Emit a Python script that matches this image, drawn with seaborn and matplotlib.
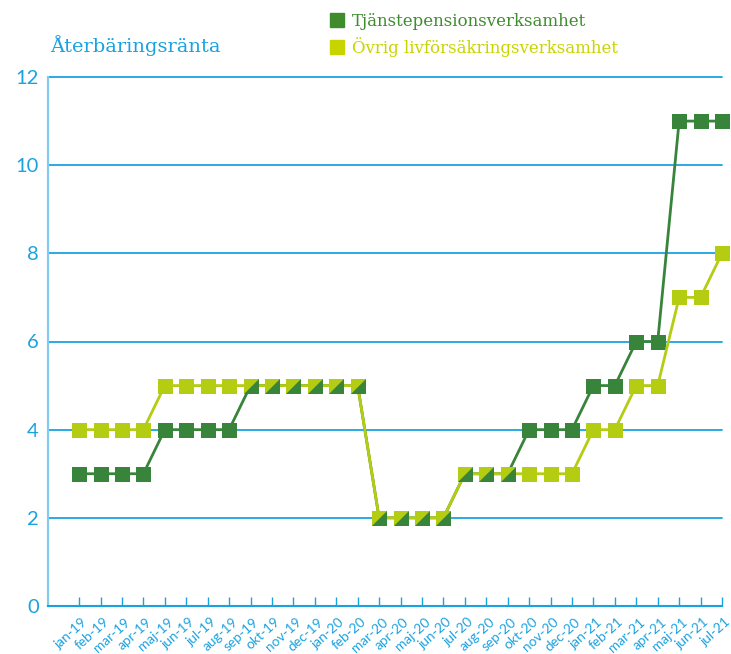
import numpy as np
import pandas as pd
import matplotlib
matplotlib.use("Agg")
import matplotlib.pyplot as plt
import matplotlib.transforms as mtransforms
import seaborn as sns
from matplotlib.lines import Line2D

months = ["jan-19", "feb-19", "mar-19", "apr-19", "maj-19", "jun-19", "jul-19", "aug-19",
          "sep-19", "okt-19", "nov-19", "dec-19", "jan-20", "feb-20", "mar-20", "apr-20",
          "maj-20", "jun-20", "jul-20", "aug-20", "sep-20", "okt-20", "nov-20", "dec-20",
          "jan-21", "feb-21", "mar-21", "apr-21", "maj-21", "jun-21", "jul-21"]
tjanste = [3, 3, 3, 3, 4, 4, 4, 4, 5, 5, 5, 5, 5, 5, 2, 2, 2, 2, 3, 3, 3, 4, 4, 4,
           5, 5, 6, 6, 11, 11, 11]
ovrig = [4, 4, 4, 4, 5, 5, 5, 5, 5, 5, 5, 5, 5, 5, 2, 2, 2, 2, 3, 3, 3, 3, 3, 3,
         4, 4, 5, 5, 7, 7, 8]
series_names = ["Tjänstepensionsverksamhet", "Övrig livförsäkringsverksamhet"]
title = "Återbäringsränta"

GREEN = "#37843a"
YELLOW = "#b4cc12"
LEG_GREEN = "#3f8c2c"
LEG_YELLOW = "#c8d400"
BLUE = "#1aa2e0"
LIGHTBLUE = "#82cdef"

sns.set_theme(style="white")
plt.rcParams["font.family"] = ["Lato", "DejaVu Sans"]

df = pd.DataFrame({"idx": np.arange(len(months)), "month": months,
                   "tj": tjanste, "ov": ovrig})

fig = plt.figure(figsize=(7.31, 6.54), dpi=100)
ax = fig.add_axes([48 / 731, 1 - 606 / 654, (722 - 48) / 731, (606 - 77) / 654])

ms = 10.8
sns.lineplot(data=df, x="idx", y="tj", ax=ax, color=GREEN, linewidth=2.0,
             marker="s", markersize=ms, markeredgewidth=0, clip_on=False, zorder=3)
sns.lineplot(data=df, x="idx", y="ov", ax=ax, color=YELLOW, linewidth=2.0,
             marker="s", markersize=ms, markeredgewidth=0, clip_on=False, zorder=4)
same = df[df["tj"] == df["ov"]]
lower_right = [(-1, -1), (1, -1), (1, 1)]
sns.scatterplot(data=same, x="idx", y="tj", ax=ax, marker=lower_right, s=ms ** 2,
                color=GREEN, linewidth=0, clip_on=False, zorder=5, legend=False)

ax.set_xlim(-1.45, 30)
ax.set_ylim(0, 12)
ax.set_yticks(range(0, 13, 2))
ax.set_xticks(df["idx"])
ax.set_xticklabels(months, rotation=42, ha="right", rotation_mode="anchor")
ax.set_xlabel("")
ax.set_ylabel("")

for y in range(2, 13, 2):
    ax.axhline(y, color=BLUE, linewidth=1.3, zorder=1, clip_on=False)

for s in ["top", "right"]:
    ax.spines[s].set_visible(False)
ax.spines["left"].set_color(LIGHTBLUE)
ax.spines["left"].set_linewidth(1.6)
ax.spines["bottom"].set_color(BLUE)
ax.spines["bottom"].set_linewidth(1.5)

ax.tick_params(axis="y", length=0, pad=6.5, labelsize=14.5, labelcolor=BLUE)
ax.tick_params(axis="x", direction="in", length=6.5, width=1, color=BLUE,
               labelsize=9.8, labelcolor=BLUE, pad=7, bottom=True)

offset = mtransforms.ScaledTranslation(2.5 / 100, 0, fig.dpi_scale_trans)
for lbl in ax.get_xticklabels():
    lbl.set_transform(lbl.get_transform() + offset)

fig.text(50 / 731, 1 - 46 / 654, title, color=BLUE, fontsize=14,
         va="center", ha="left", family=["DejaVu Serif"])

handles = [Line2D([], [], marker="s", linestyle="none", color=LEG_GREEN, markersize=10.5),
           Line2D([], [], marker="s", linestyle="none", color=LEG_YELLOW, markersize=10.5)]
leg = fig.legend(handles, series_names, loc="upper left",
                 bbox_to_anchor=(314 / 731, 1 + 2 / 654), frameon=False,
                 handletextpad=0.35, handlelength=1.0, labelspacing=0.42,
                 prop={"family": "DejaVu Serif", "size": 12})
for txt, c in zip(leg.get_texts(), [LEG_GREEN, LEG_YELLOW]):
    txt.set_color(c)

fig.savefig("out.png", dpi=100)
